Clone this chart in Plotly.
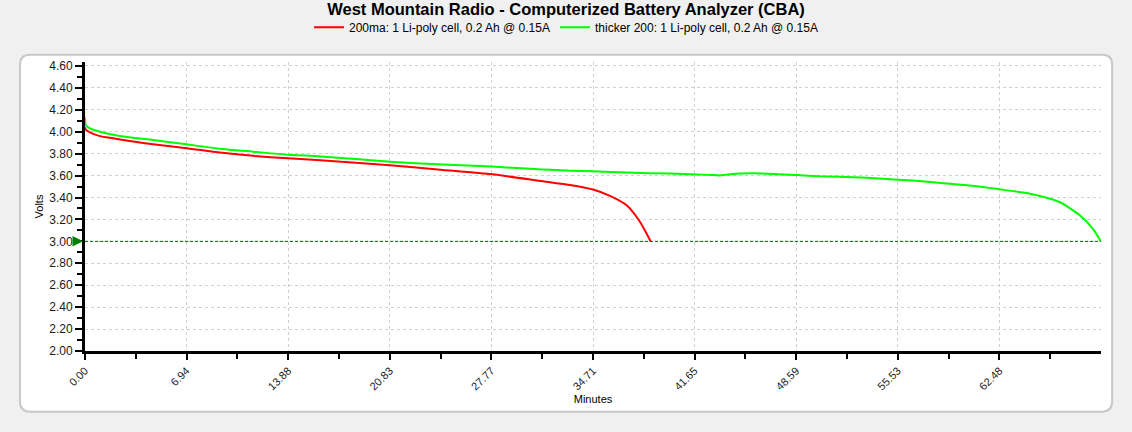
import plotly.graph_objects as go

# discharge curves (minutes, volts)
red_min = [0, 0.05, 0.34, 1.02, 1.91, 3.28, 4.65, 6.94, 9.22, 11.48, 13.87, 16.06,
           20.84, 24.46, 27.81, 31.29, 33.14, 34.71, 35.87, 37.03, 37.78, 38.26, 38.65]
red_volts = [4.04, 4.02, 3.995, 3.96, 3.94, 3.91, 3.885, 3.85, 3.81, 3.78, 3.757, 3.74,
             3.694, 3.652, 3.612, 3.548, 3.515, 3.473, 3.415, 3.327, 3.206, 3.10, 3.00]

green_min = [0, 0.05, 0.34, 1.02, 1.91, 3.28, 4.65, 6.94, 9.22, 11.48, 13.87, 16.06,
             20.84, 24.46, 27.81, 31.29, 33.14, 34.71, 37.03, 40.0, 41.82, 43.0, 43.39,
             43.8, 44.75, 46.12, 48.65, 50.22, 51.59, 53.43, 55.59, 57.94, 60.26, 62.51,
             64.57, 66.62, 67.99, 68.87, 69.40]
green_volts = [4.13, 4.06, 4.03, 4.00, 3.973, 3.945, 3.925, 3.885, 3.845, 3.818, 3.79, 3.775,
               3.727, 3.70, 3.682, 3.655, 3.645, 3.64, 3.627, 3.618, 3.61, 3.605, 3.600,
               3.608, 3.618, 3.62, 3.605, 3.594, 3.59, 3.58, 3.563, 3.54, 3.512, 3.475,
               3.434, 3.357, 3.236, 3.115, 3.003]

x_tick_labels = ["0.00", "6.94", "13.88", "20.83", "27.77", "34.71",
                 "41.65", "48.59", "55.53", "62.48"]
cutoff = 3.00

red_name = "200ma: 1 Li-poly cell, 0.2 Ah @ 0.15A"
green_name = "thicker 200: 1 Li-poly cell, 0.2 Ah @ 0.15A"

FONT = "Liberation Sans, Arial, sans-serif"

fig = go.Figure()
fig.add_trace(go.Scatter(x=red_min, y=red_volts, mode="lines", name=red_name,
                         line=dict(color="#ff0000", width=2, shape="spline", smoothing=0.6)))
fig.add_trace(go.Scatter(x=green_min, y=green_volts, mode="lines", name=green_name,
                         line=dict(color="#00ff00", width=2, shape="spline", smoothing=0.6)))

# cutoff line + little green arrow on the axis
fig.add_hline(y=cutoff, line=dict(color="#006400", width=1, dash="3px,2px"))
fig.add_annotation(x=0, y=cutoff, text="", showarrow=True, ax=-10, ay=0,
                   arrowhead=2, arrowsize=0.7, arrowwidth=3, arrowcolor="#008000",
                   standoff=2)

# white rounded panel behind the plot (paper coords)
x0, x1, y0, y1 = -0.064, 1.011, -0.21, 1.025
rx, ry = 0.01, 0.035
path = (f"M {x0+rx},{y0} L {x1-rx},{y0} Q {x1},{y0} {x1},{y0+ry} "
        f"L {x1},{y1-ry} Q {x1},{y1} {x1-rx},{y1} L {x0+rx},{y1} "
        f"Q {x0},{y1} {x0},{y1-ry} L {x0},{y0+ry} Q {x0},{y0} {x0+rx},{y0} Z")
fig.add_shape(type="path", path=path, xref="paper", yref="paper", layer="below",
              fillcolor="white", line=dict(color="#c8c8c8", width=2))

fig.update_xaxes(
    range=[0, 69.42],
    tickmode="array", tickvals=[float(t) for t in x_tick_labels], ticktext=x_tick_labels,
    tickangle=-45, ticks="outside", ticklen=6, tickwidth=2, tickcolor="black",
    minor=dict(tickmode="array", tickvals=[(float(t) + 3.471) for t in x_tick_labels],
               ticks="outside", ticklen=5, tickwidth=2, tickcolor="black", showgrid=False),
    showline=True, linecolor="black", linewidth=3,
    showgrid=True, gridcolor="#d0d0d0", griddash="3px,3px", gridwidth=1,
    zeroline=False, tickfont=dict(size=11, color="#1a1a1a"),
    title=dict(text="Minutes", font=dict(size=11, color="black"), standoff=4),
)
fig.update_yaxes(
    range=[2.0, 4.636], tick0=2.0, dtick=0.2, tickformat=".2f",
    ticks="outside", ticklen=7, tickwidth=2, tickcolor="black",
    minor=dict(dtick=0.1, ticks="outside", ticklen=5, tickwidth=2, tickcolor="black",
               showgrid=False),
    showline=True, linecolor="black", linewidth=3,
    showgrid=True, gridcolor="#d0d0d0", griddash="3px,3px", gridwidth=1,
    zeroline=False, tickfont=dict(size=12, color="#1a1a1a"), ticklabelstandoff=0,
    title=dict(text="Volts", font=dict(size=11, color="black"), standoff=4),
)

fig.update_layout(
    width=1132, height=432,
    margin=dict(l=85, r=31, t=62, b=81),
    paper_bgcolor="#f0f0f0", plot_bgcolor="white",
    font=dict(family=FONT, color="black"),
    title=dict(text="<b>West Mountain Radio - Computerized Battery Analyzer (CBA)</b>",
               x=0.5, xanchor="center", xref="container", y=0.979, yanchor="middle",
               yref="container", font=dict(size=16.5, family=FONT, color="black")),
    showlegend=True,
    legend=dict(orientation="h", x=0.5, xref="container", xanchor="center",
                y=0.937, yref="container", yanchor="middle",
                font=dict(size=12, family=FONT, color="black"),
                bgcolor="rgba(0,0,0,0)", itemwidth=30, tracegroupgap=0),
)

# drop the default 8px body margin so the figure fills the window
fig.write_html("out.html", config={"displayModeBar": False},
               post_script="document.body.style.margin='0';")
